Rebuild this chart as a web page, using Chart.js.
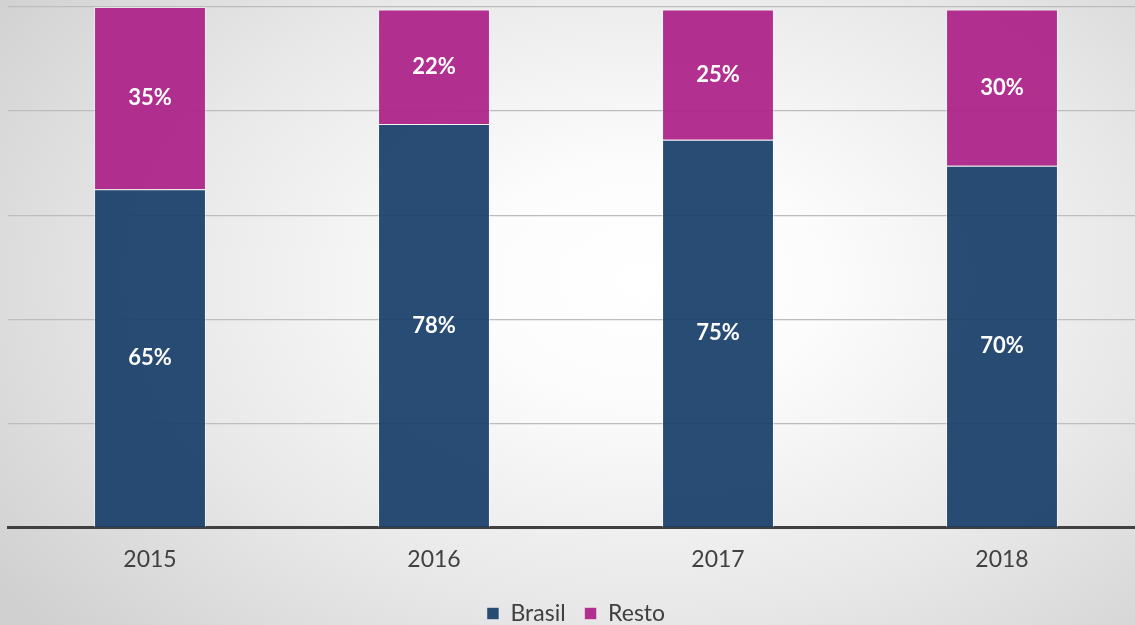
<!DOCTYPE html>
<html>
<head>
<meta charset="utf-8">
<script src="https://cdn.jsdelivr.net/npm/chart.js@4.4.1/dist/chart.umd.min.js"></script>
<style>
  html, body { margin: 0; padding: 0; }
  #wrap {
    position: relative; width: 1135px; height: 625px; overflow: hidden;
    background: radial-gradient(ellipse 70% 85% at 57% 45%, #ffffff 0%, #fcfcfc 22%, #e8e8e8 62%, #d0d0d0 100%);
  }
  #box { position: absolute; left: 0; top: 0; width: 1144px; height: 635px; }
</style>
</head>
<body>
<div id="wrap"><div id="box"><canvas id="c"></canvas></div></div>
<script>
const categories = ['2015', '2016', '2017', '2018'];
const brasilValues = [65, 77.5, 74.5, 69.5];
const restoValues = [35, 22, 25, 30];
const seriesNames = ['Brasil', 'Resto'];
const yTicks = [0, 20, 40, 60, 80, 100];

const labelPlugin = {
  id: 'segLabels',
  afterDatasetsDraw(chart) {
    const ctx = chart.ctx;
    ctx.save();
    ctx.fillStyle = '#ffffff';
    ctx.font = 'bold 22px Lato';
    ctx.textAlign = 'center';
    ctx.textBaseline = 'middle';
    chart.data.datasets.forEach((ds, i) => {
      const meta = chart.getDatasetMeta(i);
      meta.data.forEach((bar, j) => {
        const v = ds.data[j];
        const cy = (bar.y + bar.base) / 2;
        ctx.fillText(Math.round(v) + '%', bar.x, cy);
      });
    });
    ctx.restore();
  }
};

new Chart(document.getElementById('c'), {
  type: 'bar',
  data: {
    labels: categories,
    datasets: [
      { label: seriesNames[0], data: brasilValues, backgroundColor: 'rgba(25,62,106,0.93)', borderColor: 'rgba(255,255,255,0.45)', borderWidth: 1 },
      { label: seriesNames[1], data: restoValues, backgroundColor: 'rgba(172,32,135,0.93)', borderColor: 'rgba(255,255,255,0.45)', borderWidth: 1 }
    ]
  },
  options: {
    responsive: true,
    maintainAspectRatio: false,
    animation: false,
    devicePixelRatio: 1,
    layout: { padding: { top: 7, left: 8, right: 0, bottom: 0 } },
    datasets: { bar: { barPercentage: 0.394, categoryPercentage: 1 } },
    plugins: {
      legend: {
        position: 'bottom',
        labels: {
          boxWidth: 12, boxHeight: 12, padding: 19,
          color: '#404040',
          font: { family: 'Lato', size: 23 }
        }
      },
      tooltip: { enabled: false }
    },
    scales: {
      x: {
        stacked: true,
        grid: { display: false },
        border: { display: true, color: '#404040', width: 3 },
        ticks: { color: '#404040', font: { family: 'Lato', size: 23 }, padding: 10 },
        afterFit(s) { s.height = 55.5; }
      },
      y: {
        stacked: true,
        min: 0, max: 100,
        afterBuildTicks(s) { s.ticks = yTicks.map(v => ({ value: v })); },
        ticks: { display: false },
        grid: { color: '#bdbdbd', lineWidth: 1.25, drawTicks: false },
        border: { display: false }
      }
    }
  },
  plugins: [labelPlugin]
});
</script>
</body>
</html>
